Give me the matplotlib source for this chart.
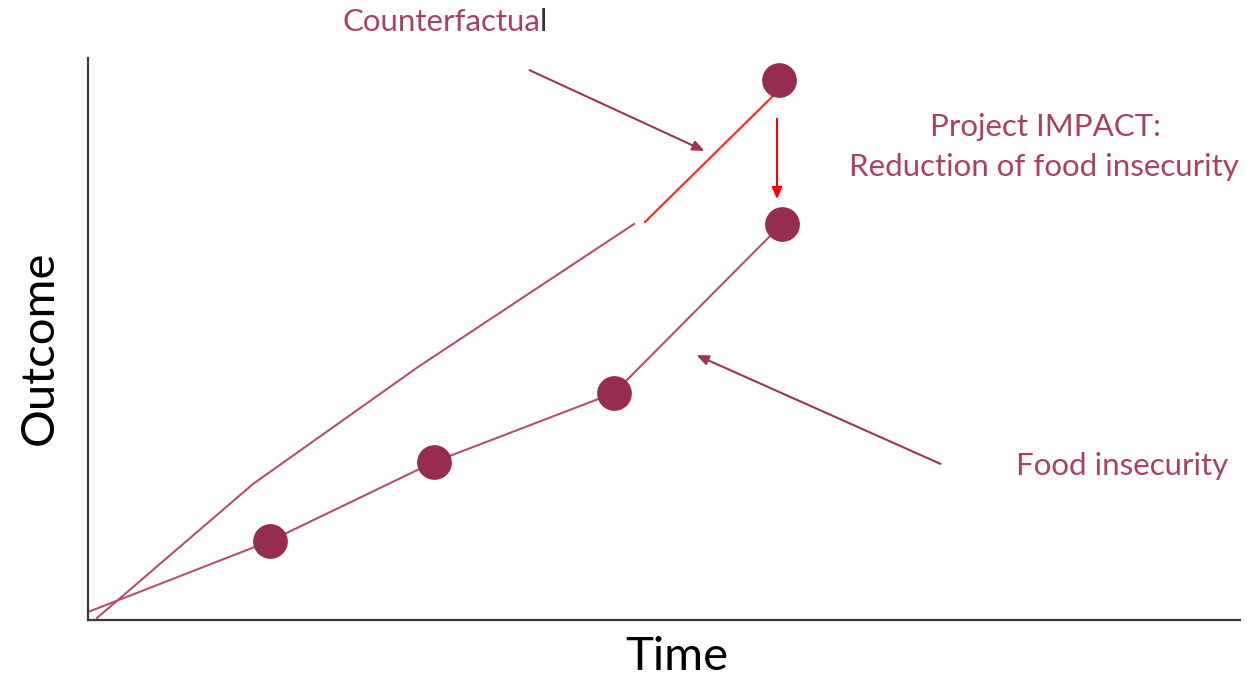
import matplotlib
matplotlib.use("Agg")
import matplotlib.pyplot as plt

# ---- data (arbitrary Time / Outcome units) ----
food_time = [0.00, 1.82, 3.46, 5.26, 6.94]
food_outcome = [0.08, 0.79, 1.58, 2.27, 3.96]
food_marker_idx = [1, 2, 3, 4]

cf_time = [0.09, 1.65, 3.30, 5.46]
cf_outcome = [0.02, 1.36, 2.53, 3.96]
cf_red_time = [5.57, 6.85]
cf_red_outcome = [3.98, 5.24]
cf_point_time = [6.91]
cf_point_outcome = [5.40]

impact_arrow = [(6.89, 5.04), (6.89, 4.18)]
cf_arrow = [(4.39, 5.51), (6.19, 4.68)]
food_arrow = [(8.55, 1.55), (6.06, 2.66)]

line_col = "#B3506F"
mark_col = "#962D4E"
text_col = "#A8435F"
FONT = "Lato"

fig = plt.figure(figsize=(12.6, 6.79), dpi=100)
ax = fig.add_axes([88/1260, 59/679, 1152/1260, 562/679])
ax.set_xlim(0, 11.52)
ax.set_ylim(0, 5.62)
for s in ["top", "right"]:
    ax.spines[s].set_visible(False)
for s in ["left", "bottom"]:
    ax.spines[s].set_color("#3a3a3a")
    ax.spines[s].set_linewidth(1.6)
ax.set_xticks([])
ax.set_yticks([])

# counterfactual
ax.plot(cf_time, cf_outcome, color=line_col, lw=1.5, clip_on=False)
ax.plot(cf_red_time, cf_red_outcome, color="#FF2A2A", lw=1.6, clip_on=False)
ax.plot(cf_point_time, cf_point_outcome, "o", color=mark_col, ms=24, clip_on=False)

# food insecurity
ax.plot(food_time, food_outcome, color=line_col, lw=1.5, clip_on=False)
ax.plot([food_time[i] for i in food_marker_idx], [food_outcome[i] for i in food_marker_idx],
        "o", color=mark_col, ms=24, ls="none", clip_on=False)

# arrows
ax.annotate("", xy=impact_arrow[1], xytext=impact_arrow[0],
            arrowprops=dict(arrowstyle="-|>,head_length=0.7,head_width=0.3", color="#FF0000", lw=1.5),
            annotation_clip=False)
ax.annotate("", xy=cf_arrow[1], xytext=cf_arrow[0],
            arrowprops=dict(arrowstyle="-|>,head_length=0.7,head_width=0.3", color="#9A3558", lw=1.5),
            annotation_clip=False)
ax.annotate("", xy=food_arrow[1], xytext=food_arrow[0],
            arrowprops=dict(arrowstyle="-|>,head_length=0.7,head_width=0.3", color="#9A3558", lw=1.5),
            annotation_clip=False)

# texts
FS = 22.5
ax.text(4.52, 5.98, "Counterfactua", color=text_col, fontsize=FS, family=FONT,
        ha="right", va="center", clip_on=False)
ax.text(4.52, 5.98, "l", color="#333333", fontsize=FS, family=FONT,
        ha="left", va="center", clip_on=False)
ax.text(9.57, 4.93, "Project IMPACT:", color=text_col, fontsize=FS, family=FONT,
        ha="center", va="center", clip_on=False)
ax.text(9.56, 4.53, "Reduction of food insecurity", color=text_col, fontsize=FS, family=FONT,
        ha="center", va="center", clip_on=False)
ax.text(10.34, 1.54, "Food insecurity", color=text_col, fontsize=FS, family=FONT,
        ha="center", va="center", clip_on=False)

fig.text(677/1260, 1 - 657/679, "Time", fontsize=34, family=FONT, ha="center", va="center", color="black")
fig.text(40/1260, 1 - 348/679, "Outcome", fontsize=34, family=FONT, ha="center", va="center",
         rotation=90, color="black")

fig.savefig("out.png", dpi=100, facecolor="white")
